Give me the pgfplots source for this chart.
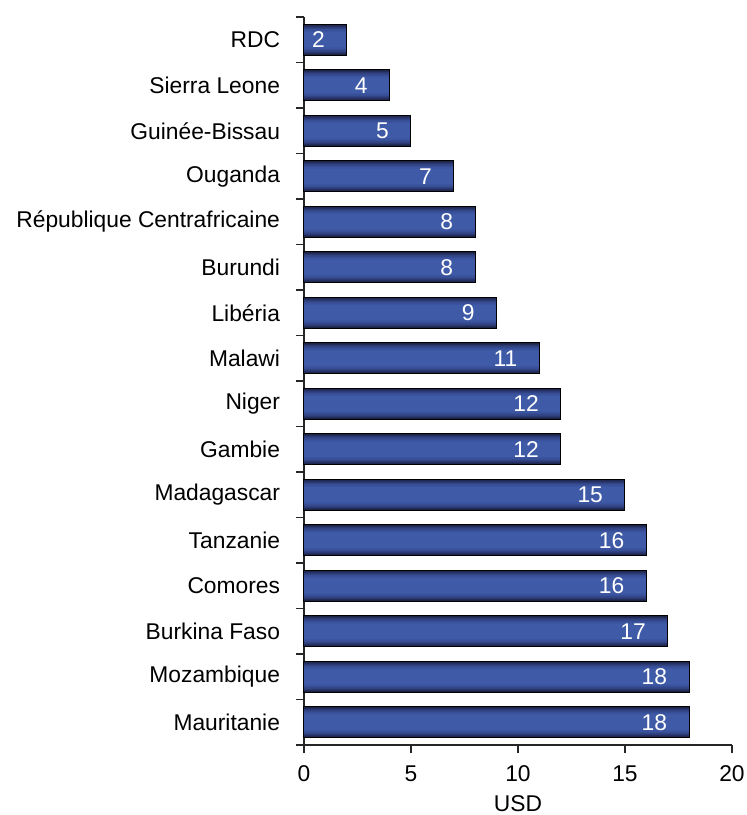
\documentclass[border=0pt]{standalone}
\usepackage{fontspec}
\setmainfont{Liberation Sans}
\usepackage{pgfplots}
\usepackage{pgfplotstable}
\pgfplotsset{compat=1.18}
\definecolor{c0}{HTML}{1A2244}
\definecolor{c1}{HTML}{222D5A}
\definecolor{c2}{HTML}{2A386F}
\definecolor{c3}{HTML}{314383}
\definecolor{c4}{HTML}{374D94}
\definecolor{c5}{HTML}{3B549F}
\definecolor{c6}{HTML}{3F5BA7}
\newcommand\fs{\fontsize{11.4}{13}\selectfont}
\pgfplotstableread{
v y
18 0
18 1
17 2
16 3
16 4
15 5
12 6
12 7
11 8
9 9
8 10
8 11
7 12
5 13
4 14
2 15
}\data
\begin{document}
\fs
\begin{tikzpicture}
\useasboundingbox (-152pt,-35pt) rectangle (221pt,372.5pt);
\begin{axis}[
  at={(0,0)}, anchor=south west,
  scale only axis,
  width=214pt, height=364pt,
  xbar, bar shift=0pt,
  xmin=0, xmax=20,
  ymin=-0.5, ymax=15.5,
  axis lines*=left,
  axis line style={line width=0.6pt, color=black!85},
  tick style={line width=0.6pt, color=black!85},
  tick align=outside,
  xtick={0,5,10,15,20},
  major tick length=4pt,
  ytick={-0.5,0.5,...,15.5},
  yticklabels={},
  extra y ticks={0,...,15},
  extra y tick labels={Mauritanie,Mozambique,Burkina Faso,Comores,Tanzanie,Madagascar,Gambie,Niger,Malawi,Libéria,Burundi,République Centrafricaine,Ouganda,Guinée-Bissau,Sierra Leone,RDC},
  extra y tick style={major tick length=0pt, yticklabel style={xshift=-8pt}},
  yticklabel style={font=\fs},
  xticklabel style={font=\fs, yshift=-2.3pt},
  /pgf/number format/assume math mode=true,
  xlabel={USD},
  xlabel style={font=\fs, yshift=1pt},
  clip=false,
]
\addplot[draw=none, fill=c0, bar width=0.68] table[x=v,y=y]{\data};
\addplot[draw=none, fill=c1, bar width=0.63] table[x=v,y=y]{\data};
\addplot[draw=none, fill=c2, bar width=0.58] table[x=v,y=y]{\data};
\addplot[draw=none, fill=c3, bar width=0.53] table[x=v,y=y]{\data};
\addplot[draw=none, fill=c4, bar width=0.47] table[x=v,y=y]{\data};
\addplot[draw=none, fill=c5, bar width=0.41] table[x=v,y=y]{\data};
\addplot[draw=none, fill=c6, bar width=0.33] table[x=v,y=y]{\data};
\addplot[draw=black, line width=0.5pt, fill=none, bar width=0.68,
  nodes near coords,
  every node near coord/.append style={anchor=east, xshift=-7pt, text=white, font=\fs}] table[x=v,y=y]{\data};
\end{axis}
\end{tikzpicture}
\end{document}
